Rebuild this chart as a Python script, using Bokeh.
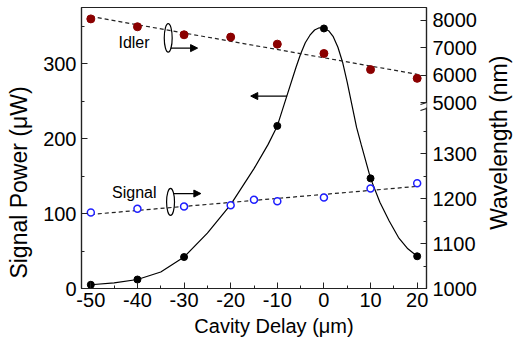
import numpy as np
from bokeh.plotting import figure
from bokeh.layouts import row
from bokeh.models import (Range1d, LinearAxis, FixedTicker, CustomJSTickFormatter,
                          Arrow, NormalHead, Label)
from bokeh.embed import file_html
from bokeh.resources import INLINE

# ---------------- data ----------------
delay_pts = [-50, -40, -30, -10, 0, 10, 20]
power_pts = [5, 12, 42, 217, 347, 147, 43]

# smooth fitted power curve
curve_x = [-50, -45, -40, -35, -30, -25, -20, -15, -12, -10, -8, -6, -5, -4, -3, -2, -1, 0, 1, 2, 3,
           4, 5, 6, 7, 8, 10, 12, 14, 16, 18, 20]
curve_y = [5, 7.5, 12, 22, 42, 74, 112, 160, 192, 217, 256, 295, 313, 328, 338, 345, 348, 347, 344, 336, 322,
           302, 275, 245, 215, 192, 147, 115, 90, 68, 53, 43]

idler_x = [-50, -40, -30, -20, -10, 0, 10, 20]
idler_wl = [8040, 7755, 7463, 7378, 7122, 6782, 6196, 5878]

signal_x = [-50, -40, -30, -20, -15, -10, 0, 10, 20]
signal_wl = [1169, 1177, 1182, 1185, 1197, 1194, 1202, 1222, 1234]

x_ticks = [-50, -40, -30, -20, -10, 0, 10, 20]
power_ticks = [0, 100, 200, 300]
wl_ticks = [1000, 1100, 1200, 1300, 5000, 6000, 7000, 8000]
wl_minor = [1050, 1150, 1250, 1350]

x_title = "Cavity Delay (\u03bcm)"
left_title = "Signal Power (\u03bcW)"
right_title = "Wavelength (nm)"

# ---------------- broken right axis mapping ----------------
LO0, LO_SLOPE = 1000.0, 0.45          # lower segment
HI0, HI_BASE, HI_SLOPE = 5000.0, 186.0, 0.0275   # upper segment
SPLIT = 3000.0


def wl_map(w):
    w = np.asarray(w, dtype=float)
    return np.where(w < SPLIT, (w - LO0) * LO_SLOPE, HI_BASE + (w - HI0) * HI_SLOPE)


FONT = "Liberation Sans"
EM = "\u2003"

p = figure(width=484, height=345, x_range=Range1d(-52, 22), y_range=Range1d(0, 375),
           output_backend="svg", toolbar_location=None,
           min_border_left=81, min_border_right=58, min_border_top=7, min_border_bottom=57)
p.extra_y_ranges = {"wl": Range1d(0, 281)}
p.xgrid.visible = False
p.ygrid.visible = False
p.outline_line_color = "#222222"
p.outline_line_width = 1.2
p.background_fill_color = "white"
p.border_fill_color = "white"


def style_axis(ax):
    ax.axis_line_color = "#222222"
    ax.axis_line_width = 1.2
    ax.major_tick_in = 6
    ax.major_tick_out = 0
    ax.minor_tick_in = 3
    ax.minor_tick_out = 0
    ax.major_tick_line_color = "#222222"
    ax.minor_tick_line_color = "#222222"
    ax.major_label_text_font = FONT
    ax.major_label_text_font_size = "20px"
    ax.major_label_text_color = "black"
    ax.axis_label_text_font = FONT
    ax.axis_label_text_font_style = "normal"
    ax.axis_label_text_color = "black"


plain = CustomJSTickFormatter(code="return tick.toFixed(0);")

# bottom axis
xa = p.xaxis[0]
xa.ticker = FixedTicker(ticks=x_ticks, minor_ticks=[t + 5 for t in x_ticks[:-1]])
xa.formatter = plain
style_axis(xa)
xa.major_label_standoff = 4
xa.axis_label = EM * 2 + x_title
xa.axis_label_text_font_size = "20px"
xa.axis_label_standoff = 5

# left axis
ya = p.yaxis[0]
ya.ticker = FixedTicker(ticks=power_ticks, minor_ticks=[t + 50 for t in power_ticks])
ya.formatter = plain
style_axis(ya)
ya.major_label_standoff = 5
ya.axis_label = left_title + EM * 3
ya.axis_label_text_font_size = "23px"
ya.axis_label_standoff = 8

# right broken axis
fmt = CustomJSTickFormatter(args=dict(lo0=LO0, los=LO_SLOPE, hi0=HI0, hib=HI_BASE, his=HI_SLOPE),
                            code="""
if (tick < hib - 3) { return String(Math.round(lo0 + tick / los)); }
return String(Math.round(hi0 + (tick - hib) / his));
""")
ra = LinearAxis(y_range_name="wl",
                ticker=FixedTicker(ticks=list(wl_map(wl_ticks)), minor_ticks=list(wl_map(wl_minor))),
                formatter=fmt)
style_axis(ra)
ra.major_label_standoff = 6
p.add_layout(ra, "right")

# ---------------- data glyphs ----------------
p.line(curve_x, curve_y, line_color="black", line_width=1.2)
p.scatter(delay_pts, power_pts, size=7, fill_color="black", line_color="black")

# linear fits of the wavelengths
xf = np.array([-50, 20], dtype=float)
ci = np.polyfit(idler_x, idler_wl, 1)
cs = np.polyfit(signal_x, signal_wl, 1)
p.line(xf, wl_map(np.polyval(ci, xf)), y_range_name="wl", line_color="#222222",
       line_width=1.2, line_dash="4 3")
p.line(xf, wl_map(np.polyval(cs, xf)), y_range_name="wl", line_color="#222222",
       line_width=1.2, line_dash="4 3")

p.scatter(idler_x, wl_map(idler_wl), y_range_name="wl", size=8,
          fill_color="#8b0000", line_color="#8b0000")
p.scatter(signal_x, wl_map(signal_wl), y_range_name="wl", size=7,
          fill_color="white", line_color="#1f1fff", line_width=1.5)

# ---------------- annotations ----------------
p.ellipse(x=[-33.4], y=[334.4], width=1.7, height=38, fill_color=None,
          line_color="black", line_width=1.2)
p.ellipse(x=[-32.9], y=[115.5], width=1.7, height=36, fill_color=None,
          line_color="black", line_width=1.2)

p.add_layout(Arrow(end=NormalHead(size=7, fill_color="black", line_color="black"),
                   x_start=-32.9, y_start=320.8, x_end=-27.1, y_end=320.8,
                   line_color="black", line_width=1.2))
p.add_layout(Arrow(end=NormalHead(size=7, fill_color="black", line_color="black"),
                   x_start=-32.2, y_start=126.7, x_end=-26.4, y_end=126.7,
                   line_color="black", line_width=1.2))
p.add_layout(Arrow(end=NormalHead(size=7, fill_color="black", line_color="black"),
                   x_start=-7.9, y_start=256.8, x_end=-15.7, y_end=256.8,
                   line_color="black", line_width=1.2))

p.add_layout(Label(x=-37.4, y=328.8, text="Idler", text_align="right", text_baseline="middle",
                   text_font=FONT, text_font_size="16px", text_color="black"))
p.add_layout(Label(x=-35.9, y=127.5, text="Signal", text_align="right", text_baseline="middle",
                   text_font=FONT, text_font_size="16px", text_color="black"))

# axis break marks on the right axis
p.add_layout(Arrow(end=None, x_start=22, y_start=181, x_end=22, y_end=185.5, y_range_name="wl",
                   line_color="white", line_width=4))
for v0 in (178.0, 184.0):
    p.add_layout(Arrow(end=None, x_start=20.7, y_start=v0, x_end=23.3, y_end=v0 + 4,
                       y_range_name="wl", line_color="#222222", line_width=1.2))

# ---------------- right-hand title strip (reads bottom-to-top) ----------------
q = figure(width=32, height=345, x_range=Range1d(0, 32), y_range=Range1d(0, 345),
           output_backend="svg", toolbar_location=None, x_axis_location=None, y_axis_location=None,
           min_border_left=0, min_border_right=0, min_border_top=0, min_border_bottom=0)
q.xgrid.visible = False
q.ygrid.visible = False
q.outline_line_color = None
q.background_fill_color = "white"
q.border_fill_color = "white"
q.add_layout(Label(x=14, y=179, angle=np.pi / 2, text=right_title, text_align="center",
                   text_baseline="middle", text_font=FONT, text_font_size="23px", text_color="black"))

layout = row(p, q, spacing=0)
open("out.html", "w").write(file_html(layout, INLINE))
